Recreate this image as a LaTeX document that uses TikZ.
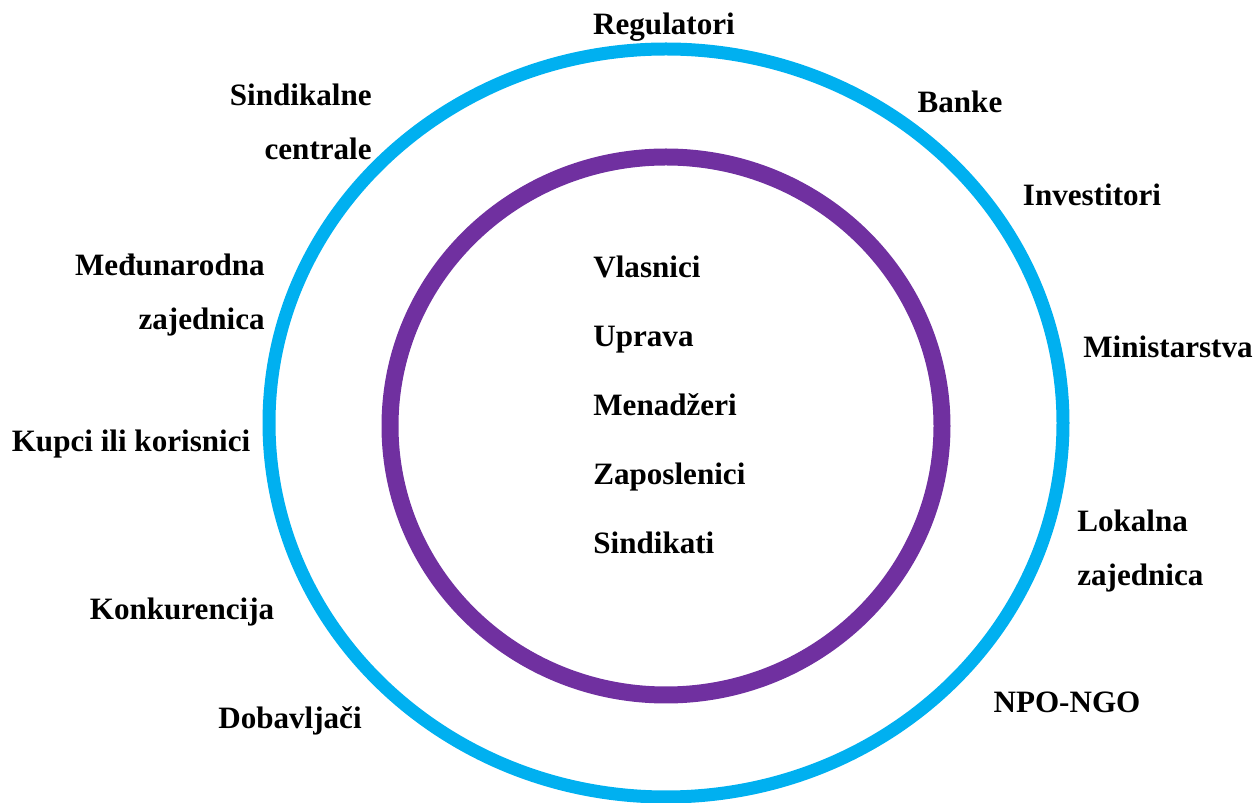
\documentclass[tikz,border=0pt]{standalone}
\usepackage{fontspec}
\setmainfont{Liberation Serif}
\usepackage{xcolor}
\definecolor{ringblue}{HTML}{00B0F0}
\definecolor{ringpurple}{HTML}{7030A0}
\begin{document}
\begin{tikzpicture}[x=0.02cm, y=-0.02cm,
    lbl/.style={inner sep=0pt, font=\fontsize{17.7}{31.3}\selectfont\bfseries},
    ring/.style={line width=#1}]

    \useasboundingbox (0,0) rectangle (1259,803);

    % the two rings
    \draw[ring=0.26cm, ringblue] (666,423) ellipse [x radius=397, y radius=374];
    \draw[ring=0.34cm, ringpurple] (666,426) ellipse [x radius=276, y radius=269];

    % inner stakeholders
    \node[lbl, anchor=base west] (vlasnici) at (593,278) {Vlasnici};
    \node[lbl, anchor=base west] (uprava) at (593,347) {Uprava};
    \node[lbl, anchor=base west] (menadzeri) at (593,416) {Menadžeri};
    \node[lbl, anchor=base west] (zaposlenici) at (593,485) {Zaposlenici};
    \node[lbl, anchor=base west] (sindikati) at (593,554) {Sindikati};

    % outer stakeholders (two-line labels sit on their last baseline)
    \node[lbl, anchor=base] (regulatori) at (664,35) {Regulatori};
    \node[lbl, anchor=base] (banke) at (960,113) {Banke};
    \node[lbl, anchor=base] (investitori) at (1092,206) {Investitori};
    \node[lbl, anchor=base] (ministarstva) at (1168,358) {Ministarstva};
    \node[lbl, anchor=base west, align=left] (lokalna) at (1077,586) {Lokalna\\zajednica};
    \node[lbl, anchor=base] (npo) at (1067,713) {NPO-NGO};
    \node[lbl, anchor=base] (dobavljaci) at (290,729) {Dobavljači};
    \node[lbl, anchor=base] (konkurencija) at (182,620) {Konkurencija};
    \node[lbl, anchor=base] (kupci) at (131,452) {Kupci ili korisnici};
    \node[lbl, anchor=base east, align=right] (medjunarodna) at (265,330) {Međunarodna\\zajednica};
    \node[lbl, anchor=base east, align=right] (sindikalne) at (372,160) {Sindikalne\\centrale};
\end{tikzpicture}
\end{document}
